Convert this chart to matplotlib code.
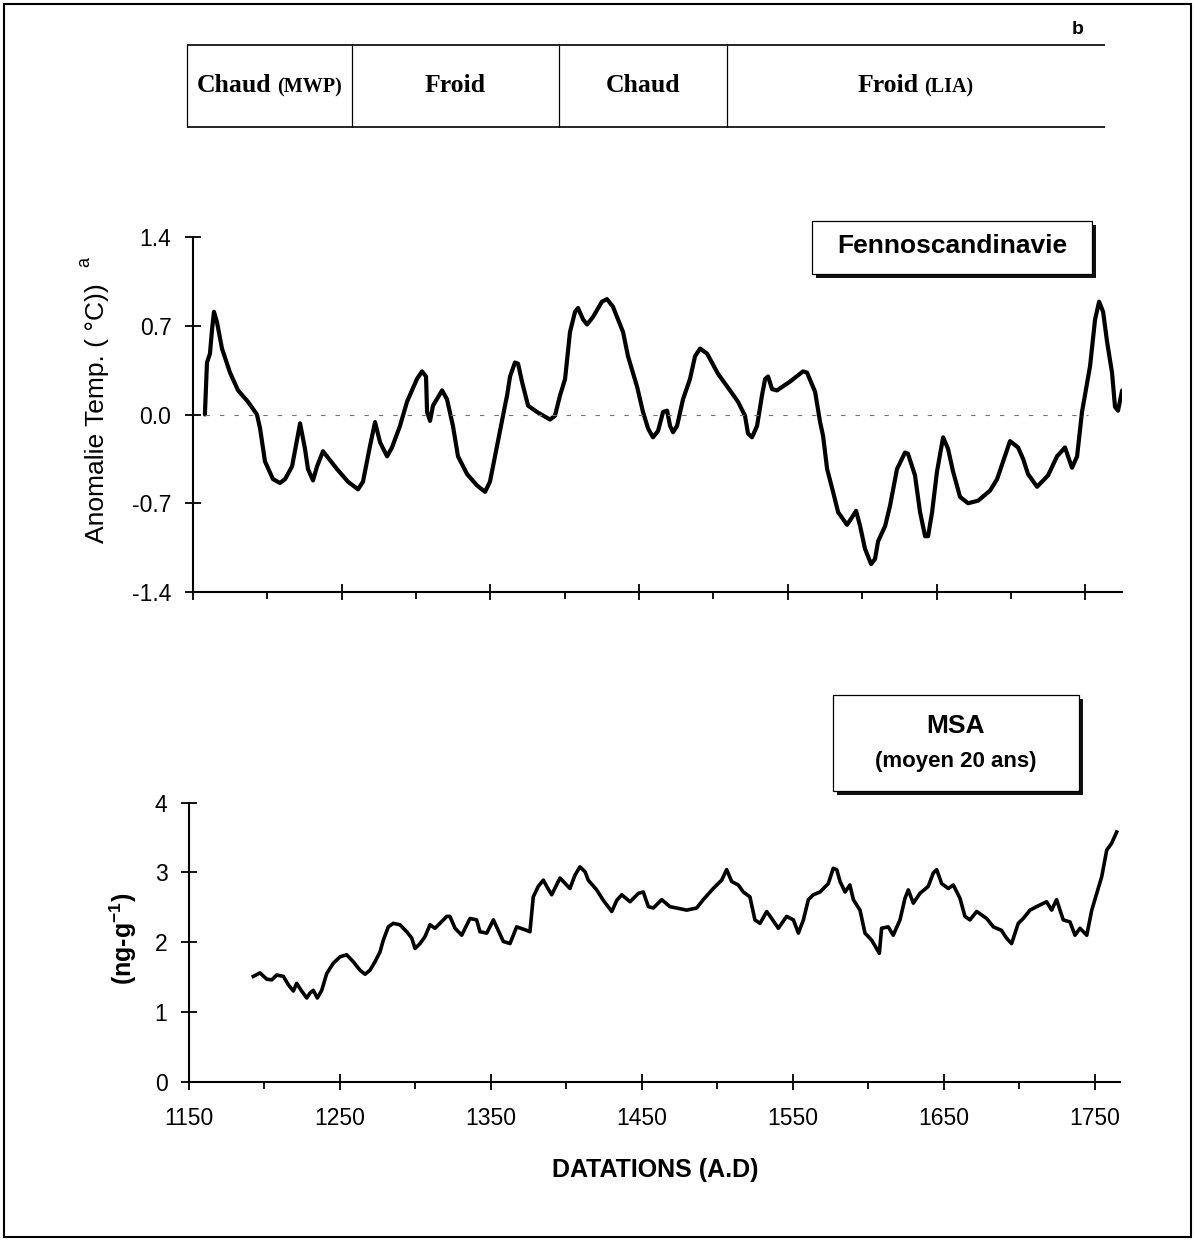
import matplotlib
matplotlib.use("Agg")
import matplotlib.pyplot as plt
from matplotlib.patches import Rectangle
from matplotlib.offsetbox import TextArea, HPacker, AnnotationBbox

plt.rcParams['font.family'] = ['Liberation Sans', 'DejaVu Sans']
plt.rcParams['axes.unicode_minus'] = False
plt.rcParams['mathtext.default'] = 'regular'

# climate periods shown in the header band (boundaries in years A.D.)
period_names = ["Chaud", "Froid", "Chaud", "Froid"]
period_notes = ["(MWP)", "", "", "(LIA)"]
period_edges = [1146, 1257, 1396, 1509, 1763]

# Fennoscandinavia temperature anomaly (deg C)
temp_years = [1158, 1159.4, 1161.4, 1162.8, 1164.1, 1166.1, 1169.5, 1174.9, 1180.3, 1187,
              1193, 1195.1, 1198.4, 1203.8, 1208.5, 1211.9, 1216.6, 1222, 1225.3, 1227.3,
              1230.7, 1233.4, 1237.4, 1246.8, 1254.2, 1261, 1264.3, 1269, 1272.4, 1275.8,
              1280.5, 1283.8, 1289.2, 1293.9, 1300.6, 1304, 1306.7, 1307.4, 1309.4, 1311.4,
              1317.5, 1320.8, 1324.8, 1328.2, 1334.3, 1341, 1346.4, 1349.7, 1354.4, 1359.8,
              1361.2, 1363.2, 1366.5, 1368.6, 1371.2, 1375.3, 1381.3, 1390.1, 1393.4, 1396.8,
              1400.2, 1403.5, 1406.9, 1408.9, 1412.3, 1415, 1419, 1425, 1428.4, 1432.4,
              1439.2, 1442.5, 1448.6, 1452.6, 1456, 1459.3, 1462.7, 1466.1, 1468.8, 1470.8,
              1472.8, 1475.5, 1479.5, 1484.2, 1487.6, 1491, 1495.7, 1503.1, 1511.1, 1516.5,
              1521.2, 1523.2, 1525.9, 1529.3, 1532.6, 1534.7, 1536.7, 1539.4, 1542.7, 1551.5,
              1560.2, 1562.9, 1568.3, 1571.7, 1573.7, 1576.4, 1580.4, 1583.8, 1589.8, 1593.2,
              1595.9, 1598.6, 1601.9, 1606, 1608.6, 1610.7, 1615.4, 1618.7, 1623.4, 1628.8,
              1630.8, 1635.5, 1638.9, 1642.3, 1644.3, 1647, 1650.3, 1654.4, 1657.7, 1661.1,
              1665.8, 1671.2, 1677.9, 1686, 1690.7, 1699.4, 1704.8, 1708.2, 1711.5, 1717.6,
              1725, 1731, 1736.4, 1738.4, 1741.1, 1744.5, 1747.8, 1753.2, 1756.6, 1759.3,
              1762, 1764.7, 1768, 1770, 1772, 1774.8]
temp_anom = [0.0, 0.41, 0.48, 0.67, 0.81, 0.73, 0.52, 0.33, 0.19, 0.10,
             0.0, -0.11, -0.37, -0.51, -0.54, -0.51, -0.41, -0.07, -0.27, -0.43,
             -0.52, -0.41, -0.29, -0.43, -0.53, -0.59, -0.53, -0.25, -0.06, -0.22,
             -0.33, -0.26, -0.09, 0.10, 0.28, 0.34, 0.30, 0.02, -0.05, 0.07,
             0.19, 0.12, -0.09, -0.33, -0.47, -0.56, -0.61, -0.53, -0.25, 0.07,
             0.15, 0.30, 0.41, 0.40, 0.26, 0.07, 0.02, -0.04, -0.01, 0.15,
             0.28, 0.65, 0.81, 0.84, 0.75, 0.71, 0.77, 0.89, 0.91, 0.85,
             0.65, 0.46, 0.22, 0.02, -0.11, -0.18, -0.13, 0.02, 0.03, -0.09,
             -0.14, -0.09, 0.12, 0.28, 0.46, 0.52, 0.48, 0.32, 0.19, 0.10,
             -0.01, -0.15, -0.18, -0.09, 0.15, 0.28, 0.30, 0.20, 0.19, 0.26,
             0.34, 0.33, 0.18, -0.06, -0.17, -0.43, -0.61, -0.77, -0.87, -0.81,
             -0.76, -0.88, -1.06, -1.18, -1.14, -1.00, -0.88, -0.72, -0.43, -0.30,
             -0.31, -0.48, -0.77, -0.96, -0.96, -0.77, -0.45, -0.18, -0.27, -0.45,
             -0.65, -0.70, -0.68, -0.60, -0.51, -0.21, -0.26, -0.35, -0.47, -0.57,
             -0.48, -0.33, -0.26, -0.33, -0.42, -0.33, 0.02, 0.38, 0.75, 0.89,
             0.81, 0.57, 0.33, 0.06, 0.03, 0.19]

# MSA concentration, 20-year running mean (ng/g)
msa_years = [1192.6, 1197, 1201.5, 1204.8, 1208.1, 1212.5, 1215.8, 1219.1, 1221.3, 1224.6,
             1228, 1230.1, 1232.3, 1235, 1237.9, 1241.2, 1245.6, 1250, 1254.4, 1258.8,
             1263.2, 1266.6, 1269.9, 1273.2, 1276.5, 1278.7, 1282, 1285.3, 1289.7, 1294.2,
             1297.5, 1299.7, 1303, 1306.3, 1309.6, 1312.9, 1316.2, 1320.7, 1322.8, 1326.2,
             1330.6, 1336.1, 1340.5, 1342.7, 1347.2, 1351.6, 1354.8, 1358.2, 1362.6, 1367,
             1373.6, 1375.8, 1378, 1381.3, 1384.7, 1386.9, 1390.2, 1395.7, 1400.1, 1402.3,
             1405.6, 1408.9, 1412.3, 1414.4, 1420, 1424.4, 1430, 1433.3, 1436.6, 1442.1,
             1447.6, 1450.9, 1454.2, 1457.5, 1463.1, 1468.5, 1473, 1479.6, 1486.2, 1490.6,
             1497.2, 1502.8, 1506.1, 1509.4, 1513.8, 1517.1, 1521.5, 1524.8, 1528.2, 1532.6,
             1535.9, 1540.3, 1545.8, 1550.3, 1553.6, 1556.9, 1560.2, 1563.5, 1567.9, 1573.4,
             1576.7, 1579, 1581.2, 1584.5, 1587.7, 1590, 1594.4, 1597.7, 1602.1, 1607.2,
             1608.7, 1613.1, 1616.4, 1620.9, 1624.2, 1626.4, 1629.7, 1634.1, 1639.6, 1642.9,
             1645.2, 1648.5, 1652.9, 1656.2, 1660.6, 1663.9, 1667.2, 1671.7, 1678.3, 1682.7,
             1688.1, 1691.4, 1694.8, 1699.2, 1702.5, 1707, 1711.4, 1718, 1721.3, 1724.6,
             1729, 1733.5, 1736.8, 1740.1, 1744.6, 1747.9, 1751.2, 1754.5, 1757.8, 1761.1,
             1764.4]
msa_conc = [1.51, 1.56, 1.47, 1.46, 1.53, 1.51, 1.39, 1.30, 1.41, 1.30,
            1.20, 1.27, 1.31, 1.20, 1.31, 1.55, 1.70, 1.79, 1.82, 1.72,
            1.60, 1.54, 1.60, 1.72, 1.86, 2.03, 2.22, 2.27, 2.25, 2.15,
            2.06, 1.91, 1.98, 2.08, 2.25, 2.20, 2.27, 2.37, 2.37, 2.20,
            2.10, 2.34, 2.32, 2.15, 2.13, 2.32, 2.17, 2.01, 1.98, 2.22,
            2.17, 2.15, 2.65, 2.80, 2.89, 2.80, 2.68, 2.92, 2.82, 2.77,
            2.96, 3.08, 3.01, 2.89, 2.75, 2.60, 2.44, 2.60, 2.68, 2.58,
            2.70, 2.72, 2.51, 2.49, 2.61, 2.51, 2.49, 2.46, 2.49, 2.61,
            2.77, 2.89, 3.04, 2.87, 2.82, 2.72, 2.65, 2.32, 2.27, 2.44,
            2.34, 2.20, 2.37, 2.32, 2.13, 2.32, 2.61, 2.68, 2.72, 2.84,
            3.06, 3.04, 2.87, 2.72, 2.82, 2.61, 2.46, 2.13, 2.03, 1.84,
            2.20, 2.22, 2.10, 2.32, 2.63, 2.75, 2.56, 2.70, 2.80, 2.99,
            3.04, 2.84, 2.77, 2.82, 2.63, 2.37, 2.32, 2.44, 2.34, 2.22,
            2.17, 2.06, 1.98, 2.27, 2.34, 2.46, 2.51, 2.58, 2.46, 2.61,
            2.32, 2.29, 2.10, 2.20, 2.10, 2.46, 2.70, 2.94, 3.32, 3.42,
            3.58]

W, H = 1195, 1241
fig = plt.figure(figsize=(W / 100, H / 100), dpi=100)


def px_rect(x0, y0, x1, y1):
    # pixel box (origin top-left) -> figure fraction [left, bottom, width, height]
    return [x0 / W, 1 - y1 / H, (x1 - x0) / W, (y1 - y0) / H]


def shadow_box(x0, y0, x1, y1, off=4):
    sx, sy, sw, sh = px_rect(x0 + off, y0 + off, x1 + off, y1 + off)
    fig.add_artist(Rectangle((sx, sy), sw, sh, transform=fig.transFigure,
                             facecolor='#111111', edgecolor='none', zorder=5))
    bx, by, bw, bh = px_rect(x0, y0, x1, y1)
    fig.add_artist(Rectangle((bx, by), bw, bh, transform=fig.transFigure,
                             facecolor='white', edgecolor='black', lw=0.9, zorder=6))


def style_axes(ax):
    ax.spines['top'].set_visible(False)
    ax.spines['right'].set_visible(False)
    ax.spines['left'].set_linewidth(1.5)
    ax.spines['bottom'].set_linewidth(1.5)
    ax.set_xticks(range(1150, 1751, 100))
    ax.set_xticks(range(1200, 1701, 100), minor=True)
    ax.tick_params(which='major', direction='inout', length=12, width=1.3,
                   labelsize=16.5, pad=9.5)
    ax.tick_params(which='minor', direction='out', length=5, width=1.3)
    ax.tick_params(axis='x', which='major', pad=12)


# outer frame
fig.add_artist(Rectangle((4 / W, 4 / H), 1 - 8 / W, 1 - 8 / H, transform=fig.transFigure,
                         facecolor='none', edgecolor='black', lw=1.5))

# header band with the climate periods
ax_head = fig.add_axes(px_rect(193, 45, 1122, 127))
ax_head.set_xlim(1150, 1774.7)
ax_head.set_ylim(0, 1)
ax_head.axis('off')
ax_head.hlines([0, 1], period_edges[0], period_edges[-1], color='black', lw=1.2, clip_on=False)
ax_head.vlines(period_edges[:-1], 0, 1, color='black', lw=0.9, clip_on=False)
for i, name in enumerate(period_names):
    xc = (period_edges[i] + period_edges[i + 1]) / 2
    parts = [TextArea(name, textprops=dict(family='Liberation Serif', weight='bold', size=18.5))]
    if period_notes[i]:
        parts.append(TextArea(period_notes[i],
                              textprops=dict(family='Liberation Serif', weight='bold', size=14.5)))
    pack = HPacker(children=parts, align='baseline', pad=0, sep=4)
    ax_head.add_artist(AnnotationBbox(pack, (xc, 0.5), frameon=False, pad=0,
                                      box_alignment=(0.5, 0.5)))
fig.text(1078 / W, 1 - 30 / H, 'b', ha='center', va='center', fontsize=14, fontweight='bold')

# temperature anomaly panel
ax_top = fig.add_axes(px_rect(193, 237, 1122, 592))
ax_top.plot(temp_years, temp_anom, color='black', lw=3, solid_joinstyle='round',
            solid_capstyle='round')
ax_top.hlines(0, temp_years[0], 1752, color='0.45', lw=0.8, linestyles=(0, (4, 9)))
ax_top.set_xlim(1150, 1774.7)
ax_top.set_ylim(-1.4, 1.4)
style_axes(ax_top)
ax_top.set_yticks([-1.4, -0.7, 0.0, 0.7, 1.4])
ax_top.set_yticklabels(['-1.4', '-0.7', '0.0', '0.7', '1.4'])
ax_top.tick_params(axis='x', labelbottom=False)
fig.text(97 / W, 1 - 413 / H, 'Anomalie Temp. ( °C))', rotation=90, ha='center',
         va='center', fontsize=19)
fig.text(85 / W, 1 - 262 / H, 'a', rotation=90, ha='center', va='center', fontsize=13)

shadow_box(812, 221, 1092, 274)
fig.text(952 / W, 1 - 246 / H, 'Fennoscandinavie', ha='center', va='center',
         fontsize=19, fontweight='bold', zorder=7)

# MSA panel
ax_bot = fig.add_axes(px_rect(189, 802.7, 1120, 1081.7))
ax_bot.plot(msa_years, msa_conc, color='black', lw=2.6, solid_joinstyle='round')
ax_bot.set_xlim(1150, 1766.6)
ax_bot.set_ylim(0, 4)
style_axes(ax_bot)
ax_bot.set_yticks([0, 1, 2, 3, 4])
fig.text(123 / W, 1 - 939 / H, '(ng-g$^{-1}$)', rotation=90, ha='center', va='center',
         fontsize=18, fontweight='bold')
fig.text(655 / W, 1 - 1170 / H, 'DATATIONS (A.D)', ha='center', va='center',
         fontsize=18, fontweight='bold')

shadow_box(833, 695, 1079, 791)
fig.text(956 / W, 1 - 726 / H, 'MSA', ha='center', va='center', fontsize=19,
         fontweight='bold', zorder=7)
fig.text(956 / W, 1 - 762 / H, '(moyen 20 ans)', ha='center', va='center', fontsize=16,
         fontweight='bold', zorder=7)

fig.savefig('out.png', dpi=100)
